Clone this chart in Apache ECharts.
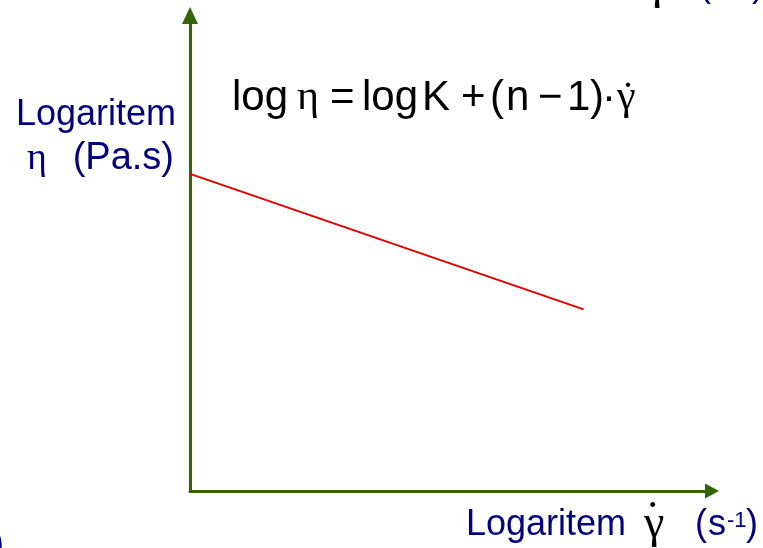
<!DOCTYPE html>
<html>
<head>
<meta charset="utf-8">
<script src="https://cdn.jsdelivr.net/npm/echarts@6/dist/echarts.min.js"></script>
<style>
  html, body { margin: 0; padding: 0; background: #ffffff; }
  #chart { width: 763px; height: 548px; }
</style>
</head>
<body>
<div id="chart"></div>
<script>
// Power-law fluid: log viscosity falls linearly with log shear rate
const xRange = [0, 10];
const yRange = [0, 10];
const logShearRate = [0, 7.54];
const logViscosity = [6.67, 3.82];

const AXIS_GREEN = '#336600';
const NAVY = '#000080';
const SANS = "'Liberation Sans', Arial, sans-serif";
const SERIF = "'Liberation Serif', 'Times New Roman', serif";

function txt(text, x, y, size, family, color, align) {
  return {
    type: 'text',
    x: x,
    y: y,
    silent: true,
    style: {
      text: text,
      font: size + 'px ' + family,
      fill: color,
      align: align || 'left',
      verticalAlign: 'middle',
      textAlign: align || 'left',
      textVerticalAlign: 'middle'
    }
  };
}

const graphics = [
  // equation
  txt('log', 232, 98, 42, SANS, '#000'),
  txt('\u03B7', 297, 98, 42, SERIF, '#000'),
  txt('=', 330, 98, 42, SANS, '#000'),
  txt('log', 362, 98, 42, SANS, '#000'),
  txt('K', 422, 98, 42, SANS, '#000'),
  txt('+', 461, 98, 42, SANS, '#000'),
  txt('(', 490, 98, 42, SANS, '#000'),
  txt('n', 506, 98, 42, SANS, '#000'),
  txt('\u2212', 538, 98, 42, SANS, '#000'),
  txt('1', 567, 98, 42, SANS, '#000'),
  txt(')', 590, 98, 42, SANS, '#000'),
  txt('\u00B7', 602, 98, 42, SANS, '#000'),
  txt('\u03B3', 617, 98, 42, SERIF, '#000'),
  txt('\u02D9', 621, 100, 42, SERIF, '#000'),

  // y-axis title
  txt('Logaritem', 176, 115, 36, SANS, NAVY, 'right'),
  txt('\u03B7', 27, 159, 38, SERIF, NAVY),
  txt('(Pa.s)', 174, 159, 38, SANS, NAVY, 'right'),

  // x-axis title
  txt('Logaritem', 466, 525, 36, SANS, NAVY),
  txt('\u03B3', 644, 525, 46, SERIF, '#000'),
  txt('\u02D9', 645, 521, 46, SERIF, '#000'),
  txt('(', 695, 525, 36, SANS, NAVY),
  txt('s', 708, 525, 36, SANS, NAVY),
  txt('-1', 727, 521, 22, SANS, NAVY),
  txt(')', 746, 525, 36, SANS, NAVY),

  // title fragment running off the top edge
  txt('\u03B3', 647, -14, 46, SERIF, '#000'),
  txt('(', 699, -14, 36, SANS, NAVY),
  txt(')', 752, -14, 36, SANS, NAVY),

  // fragment at the lower-left edge
  txt(')', 4, 545, 36, SANS, NAVY, 'right')
];

const chart = echarts.init(document.getElementById('chart'), null, { renderer: 'canvas' });
chart.setOption({
  animation: false,
  backgroundColor: '#ffffff',
  grid: { left: 190, right: 51, top: 15.5, bottom: 57, containLabel: false },
  xAxis: {
    type: 'value',
    min: xRange[0],
    max: xRange[1],
    axisLine: {
      onZero: false,
      show: true,
      symbol: ['none', 'triangle'],
      symbolSize: [15, 14],
      lineStyle: { color: AXIS_GREEN, width: 3 }
    },
    axisTick: { show: false },
    axisLabel: { show: false },
    splitLine: { show: false }
  },
  yAxis: {
    type: 'value',
    min: yRange[0],
    max: yRange[1],
    axisLine: {
      onZero: false,
      show: true,
      symbol: ['none', 'triangle'],
      symbolSize: [16, 17],
      lineStyle: { color: AXIS_GREEN, width: 3 }
    },
    axisTick: { show: false },
    axisLabel: { show: false },
    splitLine: { show: false }
  },
  series: [{
    type: 'line',
    data: logShearRate.map((x, i) => [x, logViscosity[i]]),
    showSymbol: false,
    symbol: 'none',
    lineStyle: { color: '#e00000', width: 2 },
    z: 1
  }],
  graphic: graphics
});
</script>
</body>
</html>
